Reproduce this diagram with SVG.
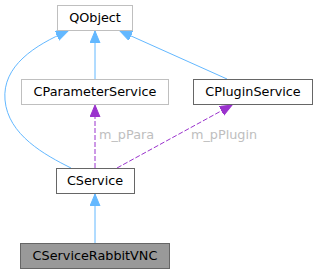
<svg xmlns="http://www.w3.org/2000/svg" width="317" height="273" viewBox="0 0 317 273">
<style>
text{font-family:"DejaVu Sans",sans-serif;font-size:12.8px;}
.n{text-anchor:middle;fill:#000;}
.lbl{fill:#bebebe;}
.inh{fill:none;stroke:#63b8ff;stroke-width:1;}
.use{fill:none;stroke:#9a32cd;stroke-width:1;stroke-dasharray:5,2;}
</style>
<defs>
<marker id="ah" markerUnits="userSpaceOnUse" markerWidth="13" markerHeight="11" refX="12" refY="5" orient="auto" viewBox="0 0 13 11">
<path d="M0,0 L12,5 L0,10 z" fill="#63b8ff" stroke="#63b8ff"/>
</marker>
<marker id="ap" markerUnits="userSpaceOnUse" markerWidth="13" markerHeight="11" refX="12" refY="5" orient="auto" viewBox="0 0 13 11">
<path d="M0,0 L12,5 L0,10 z" fill="#9a32cd" stroke="#9a32cd"/>
</marker>
</defs>
<g id="connectors">
<path class="inh" d="M95,79 L95,31" marker-end="url(#ah)"/>
<path class="inh" d="M227,79 L120,31" marker-end="url(#ah)"/>
<path class="inh" d="M71,168 C45,155 8,135 5,100 C2,66 35,45 68,31" marker-end="url(#ah)"/>
<path class="use" d="M95,168 L95,105" marker-end="url(#ap)"/>
<path class="use" d="M117,168 L232,105" marker-end="url(#ap)"/>
<path class="inh" d="M95,243 L95,194" marker-end="url(#ah)"/>
<text class="lbl" x="99" y="139">m_pPara</text>
<text class="lbl" x="191" y="139">m_pPlugin</text>
</g>
<g id="QObject">
<rect x="57.5" y="5.5" width="75" height="25" fill="#fff" stroke="#bfbfbf"/>
<text class="n" x="95" y="22">QObject</text>
</g>
<g id="CParameterService">
<rect x="21.5" y="79.5" width="147" height="25" fill="#fff" stroke="#bfbfbf"/>
<text class="n" x="95" y="96">CParameterService</text>
</g>
<g id="CPluginService">
<rect x="193.5" y="79.5" width="119" height="25" fill="#fff" stroke="#666"/>
<text class="n" x="253" y="96">CPluginService</text>
</g>
<g id="CService">
<rect x="56.5" y="168.5" width="78" height="25" fill="#fff" stroke="#666"/>
<text class="n" x="95" y="185">CService</text>
</g>
<g id="CServiceRabbitVNC">
<rect x="20.5" y="243.5" width="149" height="25" fill="#999" stroke="#666"/>
<text class="n" x="95" y="260">CServiceRabbitVNC</text>
</g>
</svg>
